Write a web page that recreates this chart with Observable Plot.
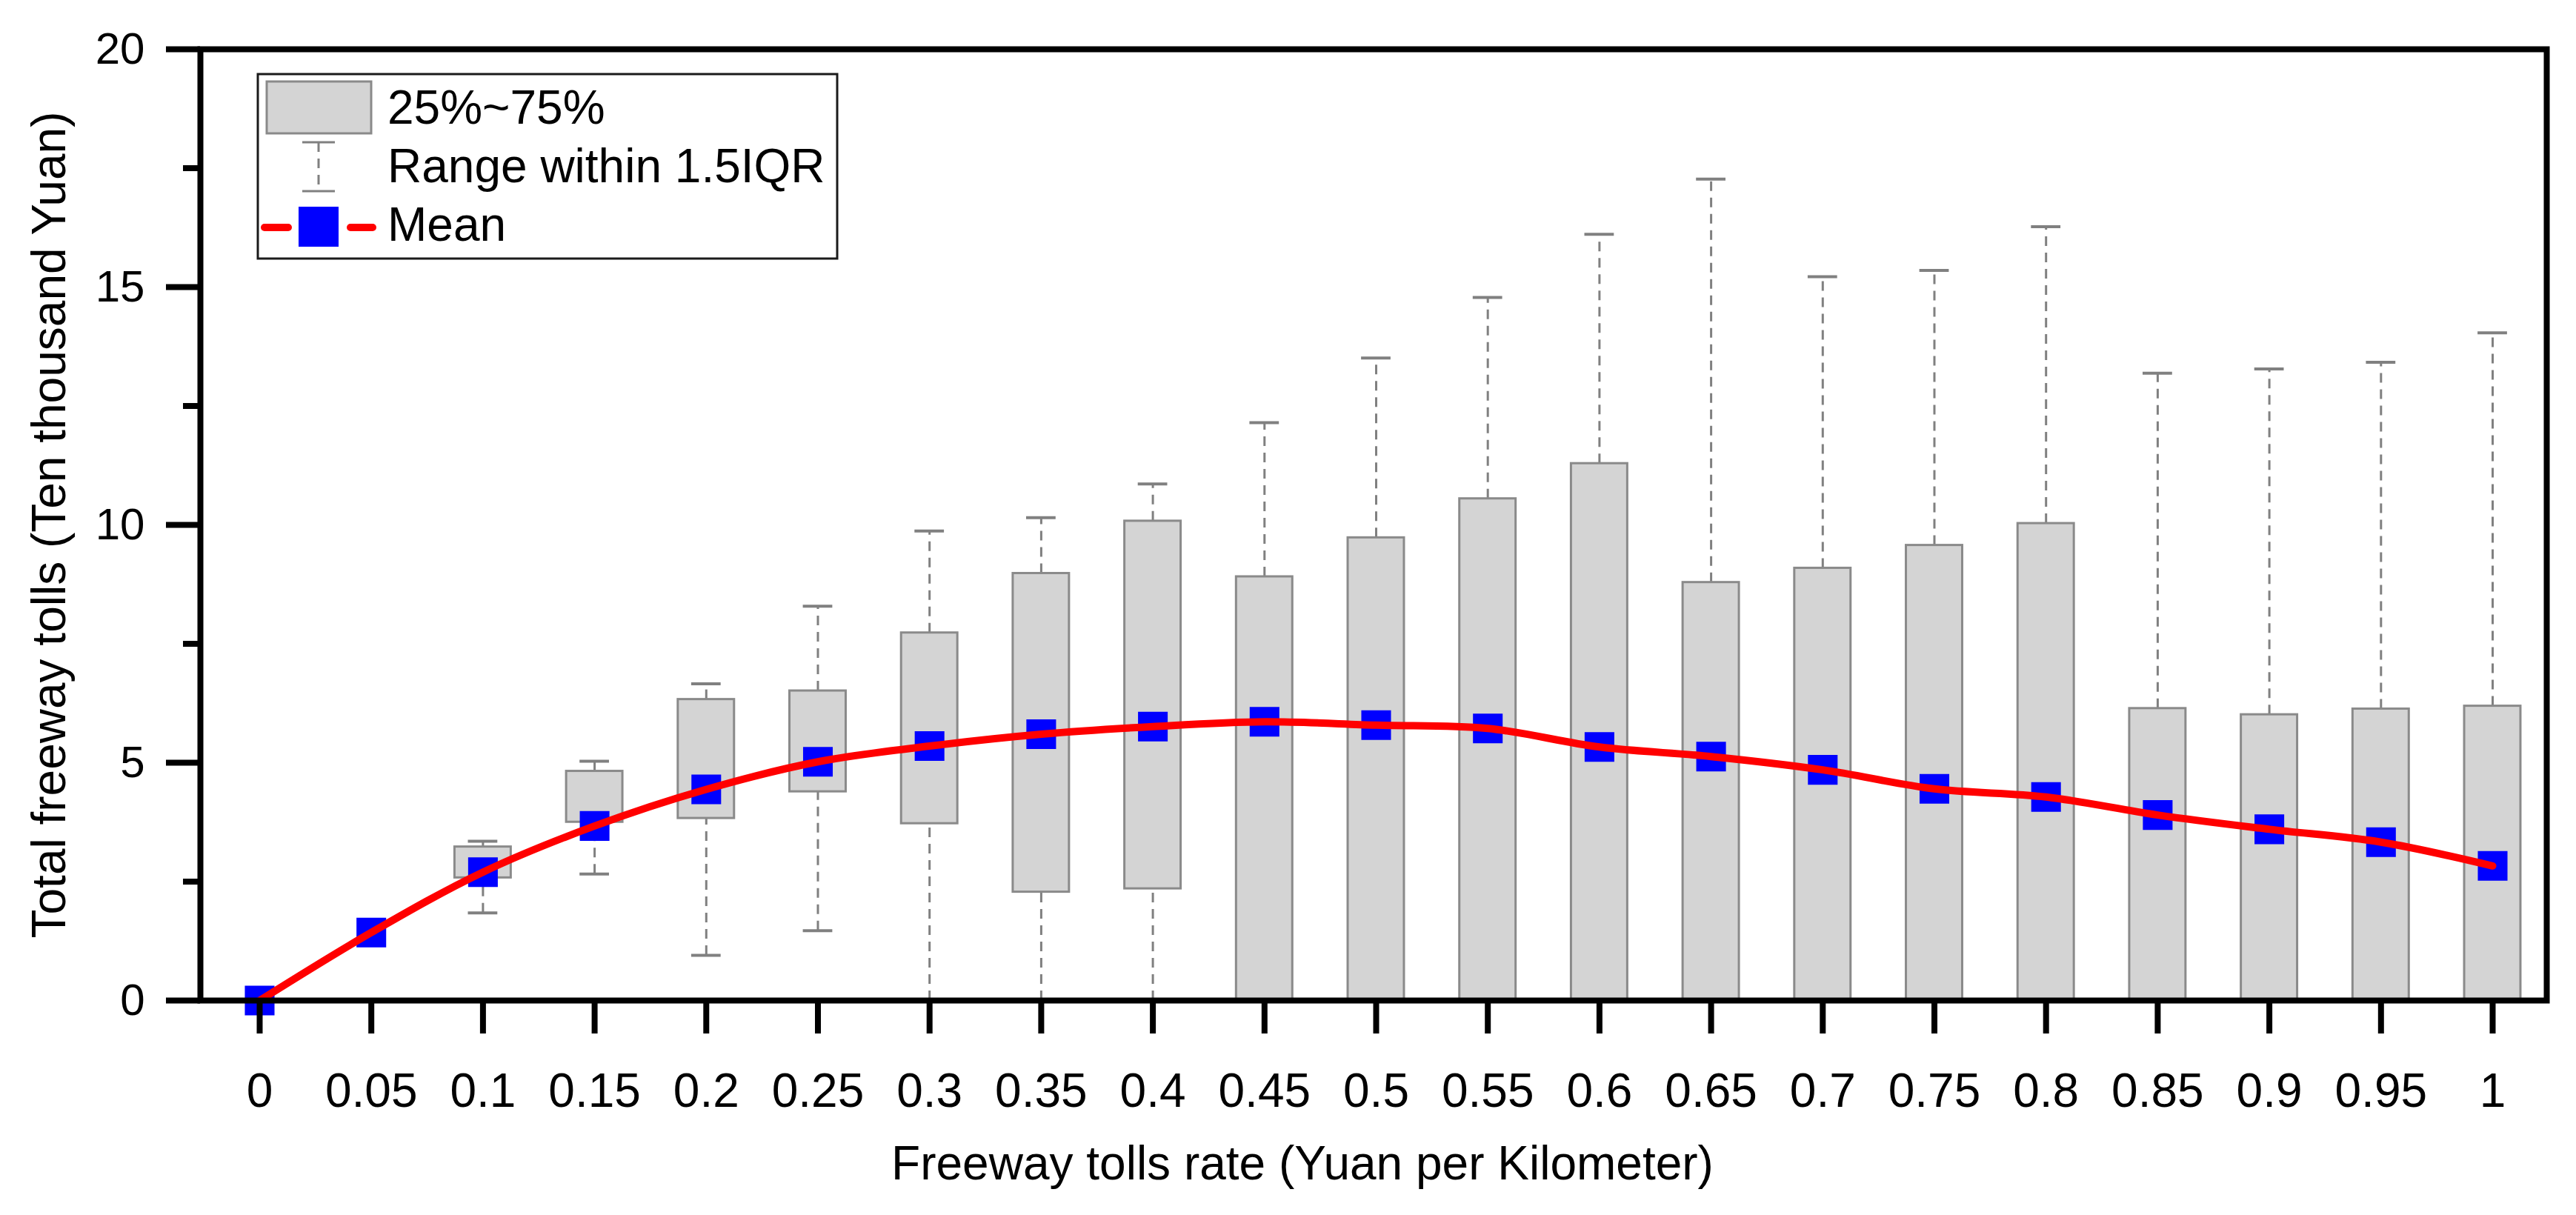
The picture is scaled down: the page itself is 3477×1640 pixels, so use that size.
<!DOCTYPE html>
<html>
<head>
<meta charset="utf-8">
<script src="https://cdn.jsdelivr.net/npm/d3@7"></script>
<script src="https://cdn.jsdelivr.net/npm/@observablehq/plot@0.6"></script>
<style>
  html, body { margin: 0; padding: 0; background: #ffffff; }
  #chart { position: relative; width: 3477px; height: 1640px; }
  svg { font-family: "Liberation Sans", Arial, sans-serif; }
</style>
</head>
<body>
<div id="chart"></div>
<script>
// ---- data ----
const rates = [0, 0.05, 0.1, 0.15, 0.2, 0.25, 0.3, 0.35, 0.4, 0.45, 0.5, 0.55, 0.6, 0.65, 0.7, 0.75, 0.8, 0.85, 0.9, 0.95, 1];
const rateLabels = ["0", "0.05", "0.1", "0.15", "0.2", "0.25", "0.3", "0.35", "0.4", "0.45", "0.5", "0.55", "0.6", "0.65", "0.7", "0.75", "0.8", "0.85", "0.9", "0.95", "1"];
const q1 = [0, 1.59, 2.58, 3.75, 3.83, 4.39, 3.72, 2.28, 2.35, 0, 0, 0, 0, 0, 0, 0, 0, 0, 0, 0, 0];
const q3 = [0, 1.59, 3.23, 4.82, 6.33, 6.51, 7.73, 8.98, 10.08, 8.91, 9.73, 10.55, 11.29, 8.79, 9.09, 9.57, 10.03, 6.14, 6.01, 6.13, 6.19];
const whiskerLow = [0, 1.59, 1.84, 2.66, 0.95, 1.47, 0, 0, 0, 0, 0, 0, 0, 0, 0, 0, 0, 0, 0, 0, 0];
const whiskerHigh = [0, 1.59, 3.35, 5.03, 6.66, 8.29, 9.87, 10.15, 10.86, 12.15, 13.51, 14.78, 16.11, 17.27, 15.22, 15.35, 16.27, 13.19, 13.28, 13.42, 14.04];
const means = [0, 1.43, 2.70, 3.67, 4.44, 5.02, 5.35, 5.60, 5.76, 5.86, 5.79, 5.72, 5.33, 5.13, 4.85, 4.45, 4.28, 3.90, 3.60, 3.33, 2.83];
const yTicks = [0, 5, 10, 15, 20];
const yMinorTicks = [2.5, 7.5, 12.5, 17.5];
const xTitle = "Freeway tolls rate (Yuan per Kilometer)";
const yTitle = "Total freeway tolls (Ten thousand Yuan)";
const legendLabels = ["25%~75%", "Range within 1.5IQR", "Mean"];

// ---- table built from the arrays ----
const rows = rates.map((r, i) => ({x: r, q1: q1[i], q3: q3[i], lo: whiskerLow[i], hi: whiskerHigh[i], mean: means[i]}));
const boxRows = rows.filter(d => d.x > 0);
const capRows = rows.filter(d => d.x > 0.06);

// styling constants
const BOX_HALF = 0.0126;   // half box width in x units
const CAP_HALF = 0.0066;   // half whisker-cap width in x units
const GRAY_FILL = "#d4d4d4";
const GRAY_STROKE = "#8a8a8a";
const FONT = "'Liberation Sans', Arial, sans-serif";

const chart = Plot.plot({
  width: 3477,
  height: 1640,
  marginLeft: 270,
  marginRight: 40,
  marginTop: 66,
  marginBottom: 290,
  style: {fontFamily: FONT, background: "#ffffff", color: "#000000"},
  x: {domain: [-0.02654, 1.02422], label: null},
  y: {domain: [0, 20], label: null},
  marks: [
    // whiskers (dashed)
    Plot.ruleX(boxRows, {x: "x", y1: "q3", y2: "hi", stroke: "#808080", strokeWidth: 3, strokeDasharray: "13,9"}),
    Plot.ruleX(boxRows, {x: "x", y1: "lo", y2: "q1", stroke: "#808080", strokeWidth: 3, strokeDasharray: "13,9"}),
    // whisker caps
    Plot.ruleY(capRows, {y: "hi", x1: d => d.x - CAP_HALF, x2: d => d.x + CAP_HALF, stroke: "#808080", strokeWidth: 4}),
    Plot.ruleY(capRows, {y: "lo", x1: d => d.x - CAP_HALF, x2: d => d.x + CAP_HALF, stroke: "#808080", strokeWidth: 4}),
    // boxes
    Plot.rect(boxRows, {x1: d => d.x - BOX_HALF, x2: d => d.x + BOX_HALF, y1: "q1", y2: "q3", fill: GRAY_FILL, stroke: GRAY_STROKE, strokeWidth: 3}),
    // mean squares
    Plot.dot(rows, {x: "x", y: "mean", symbol: "square", r: 22.6, fill: "#0000ff", stroke: null}),
    // mean line
    Plot.line(rows, {x: "x", y: "mean", stroke: "#ff0000", strokeWidth: 10, curve: "catmull-rom"}),
    // axes
    Plot.axisY(yTicks, {tickSize: 46, tickPadding: 29, strokeWidth: 8, fontSize: 60, tickFormat: d => String(d), label: null}),
    Plot.axisY(yMinorTicks, {tickSize: 23, strokeWidth: 8, tickFormat: () => "", label: null}),
    Plot.axisX(rates, {tickSize: 45, tickPadding: 53, strokeWidth: 8, fontSize: 64, tickFormat: d => rateLabels[rates.indexOf(d)], label: null}),
    Plot.frame({stroke: "#000000", strokeWidth: 8}),
    // axis titles
    Plot.text([yTitle], {text: d => d, frameAnchor: "left", textAnchor: "middle", rotate: -90, dx: -203, fontSize: 64, lineAnchor: "middle", fill: "#000000"}),
    Plot.text([xTitle], {text: d => d, frameAnchor: "bottom", textAnchor: "middle", dx: -96, dy: 221, fontSize: 64, lineAnchor: "middle", fill: "#000000"})
  ]
});

document.getElementById("chart").appendChild(chart);

// ---- legend (drawn inside the plot's svg, upper left) ----
const svg = d3.select(chart);
const lg = svg.append("g").attr("class", "legend")
  .style("font-family", FONT).attr("text-anchor", "start");
lg.append("rect").attr("x", 348).attr("y", 100).attr("width", 782).attr("height", 249)
  .attr("fill", "#ffffff").attr("stroke", "#1a1a1a").attr("stroke-width", 3);
// box symbol
lg.append("rect").attr("x", 360).attr("y", 110).attr("width", 141).attr("height", 70)
  .attr("fill", GRAY_FILL).attr("stroke", GRAY_STROKE).attr("stroke-width", 3);
// whisker symbol
lg.append("line").attr("x1", 430).attr("x2", 430).attr("y1", 192).attr("y2", 258)
  .attr("stroke", "#808080").attr("stroke-width", 3).attr("stroke-dasharray", "13,9");
lg.append("line").attr("x1", 408).attr("x2", 452).attr("y1", 192).attr("y2", 192).attr("stroke", "#808080").attr("stroke-width", 3);
lg.append("line").attr("x1", 408).attr("x2", 452).attr("y1", 258).attr("y2", 258).attr("stroke", "#808080").attr("stroke-width", 3);
// mean symbol
lg.append("line").attr("x1", 357).attr("x2", 389).attr("y1", 307).attr("y2", 307)
  .attr("stroke", "#ff0000").attr("stroke-width", 10).attr("stroke-linecap", "round");
lg.append("line").attr("x1", 473).attr("x2", 503).attr("y1", 307).attr("y2", 307)
  .attr("stroke", "#ff0000").attr("stroke-width", 10).attr("stroke-linecap", "round");
lg.append("rect").attr("x", 403).attr("y", 279).attr("width", 54).attr("height", 54).attr("fill", "#0000ff");
// labels
const baselines = [167, 246, 325];
legendLabels.forEach((t, i) => {
  lg.append("text").attr("x", 523).attr("y", baselines[i]).attr("font-size", 64)
    .attr("text-anchor", "start").attr("fill", "#000000").text(t);
});
</script>
</body>
</html>
